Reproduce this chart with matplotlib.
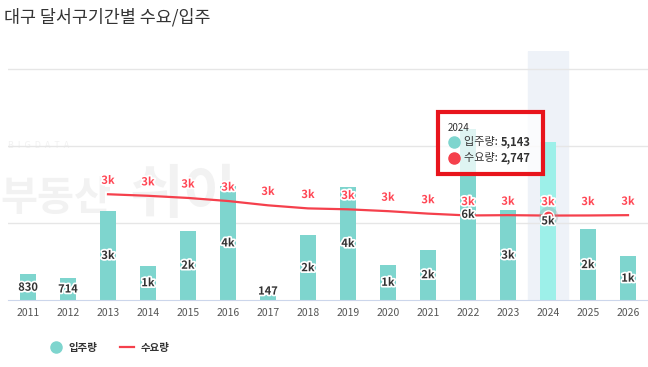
import matplotlib
matplotlib.use('Agg')
import matplotlib.pyplot as plt
import matplotlib.patheffects as pe
from matplotlib.lines import Line2D
from matplotlib.patches import Rectangle

plt.rcParams['font.family'] = ['Noto Sans CJK KR', 'DejaVu Sans']

# 데이터
years = ['2011', '2012', '2013', '2014', '2015', '2016', '2017', '2018',
         '2019', '2020', '2021', '2022', '2023', '2024', '2025', '2026']
supply = [830, 714, 2900, 1120, 2260, 3710, 147, 2100,
          3680, 1150, 1640, 5570, 2920, 5143, 2300, 1420]
demand = [None, None, 3440, 3390, 3320, 3220, 3080, 2980,
          2950, 2890, 2810, 2750, 2760, 2747, 2750, 2760]
supply_labels = ['830', '714', '3k', '1k', '2k', '4k', '147', '2k',
                 '4k', '1k', '2k', '6k', '3k', '5k', '2k', '1k']
demand_labels = ['3k'] * 16
hover = 13

TEAL = '#7ed5ce'
TEAL_HOVER = '#9df0e9'
RED = '#f5404c'
RED_TXT = '#ff4654'

fig = plt.figure(figsize=(6.48, 3.67), dpi=100)
ax = fig.add_axes([8 / 648, 67 / 367, 640 / 648, 249 / 367])
ax.set_xlim(-0.5, len(years) - 0.5)
ax.set_ylim(0, 8100)

# 워터마크 (막대 뒤)
ax.text(0.0, 0.62, 'B  I  G  D  A  T  A', transform=ax.transAxes, fontsize=6.5,
        color='#f2f2f2', va='center', zorder=0.5)
ax.text(-0.012, 0.36, '부동산', transform=ax.transAxes, fontsize=29,
        fontweight='bold', color='#f2f2f2', zorder=0.5)
ax.text(0.19, 0.35, '쉬이', transform=ax.transAxes, fontsize=42,
        fontweight='bold', color='#f2f2f2', zorder=0.5)

# hover band
ax.axvspan(hover - 0.5, hover + 0.5, color='#eef2f8', zorder=0)

for g in [2500, 5000, 7500]:
    ax.axhline(g, color='#e6e6e6', lw=1, zorder=1)

x = list(range(len(years)))
colors = [TEAL_HOVER if i == hover else TEAL for i in x]
ax.bar(x, supply, width=0.38, color=colors, zorder=2)

halo = [pe.withStroke(linewidth=2.5, foreground='white')]
for i, (v, lab) in enumerate(zip(supply, supply_labels)):
    ax.text(i, max(v / 2, 290), lab, ha='center', va='center', fontsize=8,
            fontweight='bold', color='#333333', path_effects=halo, zorder=6)

dx = [i for i, d in enumerate(demand) if d is not None]
dy = [demand[i] for i in dx]
ax.plot(dx, dy, color=RED, lw=1.6, zorder=3)
for i in dx:
    ax.annotate(demand_labels[i], (i, demand[i]), xytext=(0, 10),
                textcoords='offset points', ha='center', va='center',
                fontsize=8, fontweight='bold', color=RED_TXT,
                path_effects=halo, zorder=6)
ax.plot(hover, demand[hover], 'o', ms=14, color='#999999', alpha=0.3, mec='none', zorder=4)
ax.plot(hover, demand[hover], 'o', ms=8, color=RED, mec='white', mew=1, zorder=5)

for s in ['top', 'right', 'left']:
    ax.spines[s].set_visible(False)
ax.spines['bottom'].set_color('#ccd6eb')
ax.set_yticks([])
ax.set_xticks(x)
ax.set_xticklabels(years, fontsize=7.5, color='#555555')
ax.tick_params(axis='x', length=0, pad=6)

fig.text(4 / 648, 1 - 17 / 367, '대구 달서구기간별 수요/입주', fontsize=12.5,
         color='#333333', va='center')

# 범례
handles = [Line2D([], [], marker='o', ls='none', color=TEAL, ms=8, label='입주량'),
           Line2D([], [], color=RED, lw=1.6, label='수요량')]
leg = fig.legend(handles=handles, loc='center', bbox_to_anchor=(109 / 648, 1 - 348 / 367),
                 ncol=2, frameon=False, handlelength=1.3, columnspacing=2.2,
                 handletextpad=0.6, prop={'size': 7.5, 'weight': 'bold'})
for t in leg.get_texts():
    t.set_color('#333333')

# 툴팁
fig.add_artist(Rectangle((438 / 648, 1 - 174 / 367), 105 / 648, 62 / 367,
                         transform=fig.transFigure, facecolor='white', alpha=0.75,
                         edgecolor='none', zorder=8))
fig.add_artist(Rectangle((438 / 648, 1 - 174 / 367), 105 / 648, 62 / 367,
                         transform=fig.transFigure, facecolor='none',
                         edgecolor='#e8141c', lw=3, zorder=9))
fig.text(448 / 648, 1 - 128 / 367, years[hover], fontsize=7, color='#333333',
         va='center', zorder=10)
rows = [(TEAL, '입주량: ', supply[hover], 142), (RED, '수요량: ', demand[hover], 158)]
names = []
for c, name, val, py in rows:
    fig.add_artist(Line2D([454 / 648], [1 - py / 367], marker='o', ms=8, color=c,
                          transform=fig.transFigure, zorder=10))
    t1 = fig.text(464 / 648, 1 - py / 367, name, fontsize=8, color='#333333',
                  va='center', zorder=10)
    names.append((t1, val, py))

fig.canvas.draw()
rend = fig.canvas.get_renderer()
for t1, val, py in names:
    bb = t1.get_window_extent(rend)
    fig.text(bb.x1 / fig.bbox.width, 1 - py / 367, f'{val:,}', fontsize=8,
             fontweight='bold', color='#333333', va='center', zorder=10)

fig.savefig('out.png', dpi=100)
